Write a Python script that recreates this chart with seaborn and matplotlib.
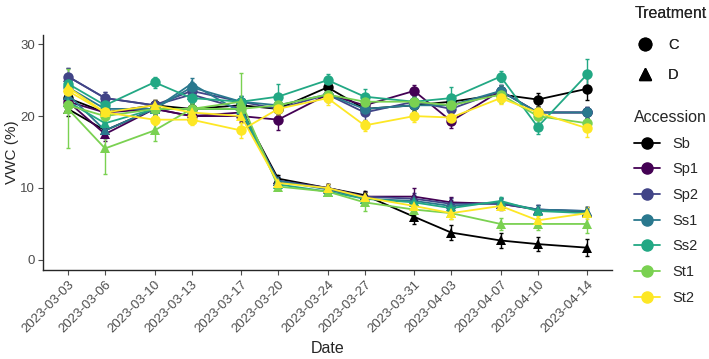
import pandas as pd
import seaborn as sns
import matplotlib.pyplot as plt
import matplotlib.dates as mdates
from matplotlib.lines import Line2D

dates = ["2023-03-03", "2023-03-06", "2023-03-10", "2023-03-13", "2023-03-17",
         "2023-03-20", "2023-03-24", "2023-03-27", "2023-03-31", "2023-04-03",
         "2023-04-07", "2023-04-10", "2023-04-14"]
accessions = ["Sb", "Sp1", "Sp2", "Ss1", "Ss2", "St1", "St2"]
colors = ["#000000", "#440154", "#414487", "#2A788E", "#22A884", "#7AD151", "#FDE725"]

# mean VWC, control (C)
c_sb  = [22.5, 20.5, 21.5, 21.0, 21.5, 21.0, 24.0, 21.0, 21.5, 22.0, 23.0, 22.3, 23.8]
c_sp1 = [22.0, 20.5, 21.0, 20.0, 20.0, 19.5, 23.0, 21.5, 23.5, 19.3, 23.5, 20.5, 20.5]
c_sp2 = [25.5, 22.5, 21.5, 23.5, 22.0, 21.0, 23.0, 20.5, 22.0, 21.0, 23.5, 20.5, 20.5]
c_ss1 = [24.0, 21.0, 21.0, 24.0, 22.0, 21.5, 23.0, 21.0, 21.5, 21.5, 23.5, 20.5, 20.5]
c_ss2 = [24.5, 21.5, 24.7, 22.5, 22.0, 22.7, 25.0, 22.7, 22.0, 22.5, 25.5, 18.5, 25.8]
c_st1 = [21.5, 20.0, 21.0, 21.0, 21.0, 21.5, 23.0, 22.0, 22.0, 21.5, 23.0, 20.0, 19.0]
c_st2 = [23.5, 20.5, 19.5, 19.5, 18.0, 21.0, 22.5, 18.7, 20.0, 19.8, 22.5, 20.5, 18.3]

# mean VWC, drought (D)
d_sb  = [21.0, 18.0, 21.0, 21.0, 21.0, 11.3, 10.0, 9.0, 6.0, 3.8, 2.7, 2.2, 1.7]
d_sp1 = [22.0, 17.5, 21.0, 20.0, 20.5, 11.0, 10.0, 8.8, 8.8, 8.0, 7.8, 7.0, 6.7]
d_sp2 = [25.5, 22.5, 21.5, 23.0, 21.0, 11.0, 10.0, 8.8, 8.5, 7.8, 7.8, 7.0, 6.8]
d_ss1 = [23.0, 18.0, 21.0, 24.5, 20.5, 11.0, 9.8, 8.5, 8.2, 7.5, 8.0, 7.0, 6.8]
d_ss2 = [22.0, 19.0, 21.0, 21.0, 21.0, 10.5, 9.5, 8.5, 8.0, 7.2, 8.2, 6.8, 6.5]
d_st1 = [21.0, 15.5, 18.0, 21.0, 22.0, 10.2, 9.5, 8.0, 7.0, 6.5, 5.0, 5.0, 5.0]
d_st2 = [24.0, 20.5, 21.5, 20.5, 20.0, 10.7, 10.0, 8.7, 7.5, 6.5, 7.5, 5.5, 6.5]

# standard errors
c_err = {
    "Sb":  [1.0, 0.8, 0.8, 0.8, 0.8, 0.8, 1.0, 0.8, 0.8, 0.8, 1.0, 0.9, 1.5],
    "Sp1": [1.0, 0.8, 0.8, 1.0, 0.8, 1.5, 1.0, 1.0, 0.8, 1.0, 0.8, 0.8, 0.8],
    "Sp2": [1.2, 0.8, 0.8, 1.0, 0.8, 0.8, 0.8, 1.0, 0.8, 0.8, 0.8, 0.8, 0.8],
    "Ss1": [1.0, 0.8, 0.8, 0.8, 0.8, 0.8, 0.8, 0.8, 0.8, 0.8, 0.8, 0.8, 0.8],
    "Ss2": [1.0, 0.8, 0.8, 0.8, 0.8, 1.8, 0.8, 1.0, 0.8, 1.5, 0.8, 1.0, 2.2],
    "St1": [1.0, 0.8, 0.8, 0.8, 0.8, 0.8, 1.0, 1.0, 1.0, 1.0, 1.2, 1.0, 1.0],
    "St2": [1.0, 0.8, 0.8, 0.8, 1.0, 0.8, 1.0, 0.8, 0.8, 0.8, 0.8, 0.8, 1.2],
}
d_err = {
    "Sb":  [1.0, 1.0, 0.8, 0.8, 0.8, 0.5, 0.5, 0.6, 1.0, 1.0, 1.0, 1.0, 1.2],
    "Sp1": [1.0, 1.0, 0.8, 1.0, 0.8, 0.5, 0.5, 0.6, 1.2, 0.8, 0.8, 0.6, 0.6],
    "Sp2": [1.2, 0.8, 0.8, 1.0, 0.8, 0.5, 0.5, 0.6, 0.8, 0.8, 0.6, 0.6, 0.6],
    "Ss1": [1.0, 1.0, 0.8, 0.8, 0.8, 0.5, 0.5, 0.6, 0.8, 0.8, 0.6, 0.6, 0.6],
    "Ss2": [1.0, 1.0, 0.8, 0.8, 0.8, 0.5, 0.5, 0.6, 0.8, 0.8, 0.6, 0.6, 0.6],
    "St1": [5.5, 3.5, 1.5, 1.0, 4.0, 0.5, 0.5, 1.2, 0.8, 0.8, 0.8, 0.8, 1.2],
    "St2": [1.0, 0.8, 0.8, 0.8, 1.0, 0.5, 0.5, 0.6, 0.8, 0.8, 0.6, 0.6, 0.8],
}

c_means = [c_sb, c_sp1, c_sp2, c_ss1, c_ss2, c_st1, c_st2]
d_means = [d_sb, d_sp1, d_sp2, d_ss1, d_ss2, d_st1, d_st2]

rows = []
for acc, cm, dm in zip(accessions, c_means, d_means):
    for i, d in enumerate(dates):
        rows.append({"Date": pd.Timestamp(d), "Accession": acc, "Treatment": "C",
                     "VWC": cm[i], "se": c_err[acc][i]})
        rows.append({"Date": pd.Timestamp(d), "Accession": acc, "Treatment": "D",
                     "VWC": dm[i], "se": d_err[acc][i]})
df = pd.DataFrame(rows)

sns.set_style("ticks")
plt.rcParams['font.family'] = ['Liberation Sans', 'DejaVu Sans']

pal = dict(zip(accessions, colors))
fig = plt.figure(figsize=(7.09, 3.59), dpi=100)
ax = fig.add_axes([0.061, 0.248, 0.802, 0.655])

# error bars
for (acc, trt), g in df.groupby(["Accession", "Treatment"]):
    ax.errorbar(g["Date"], g["VWC"], yerr=g["se"], fmt='none', ecolor=pal[acc],
                elinewidth=1.0, capsize=1.5, capthick=1.0, zorder=2)

sns.lineplot(data=df, x="Date", y="VWC", hue="Accession", style="Treatment",
             hue_order=accessions, palette=pal, markers={"C": "o", "D": "^"},
             dashes=False, markersize=7.5, markeredgewidth=0, linewidth=1.3,
             legend=False, ax=ax, zorder=3)

ax.set_xlim(pd.Timestamp("2023-03-01"), pd.Timestamp("2023-04-16"))
ax.set_ylim(-1.4, 31.3)
ax.set_yticks([0, 10, 20, 30])
ax.set_xticks([pd.Timestamp(d) for d in dates])
ax.xaxis.set_major_formatter(mdates.DateFormatter("%Y-%m-%d"))
plt.setp(ax.get_xticklabels(), rotation=45, ha='right', rotation_mode='anchor')
ax.tick_params(labelsize=9.5, colors='#4d4d4d', length=3.5, pad=2.5)
ax.tick_params(labelcolor='#4d4d4d')
ax.set_xlabel("Date", fontsize=11.5)
ax.set_ylabel("VWC (%)", fontsize=11, labelpad=1)
for s in ["top", "right"]:
    ax.spines[s].set_visible(False)
for s in ["left", "bottom"]:
    ax.spines[s].set_linewidth(1.0)

# legends
trt_handles = [Line2D([], [], color='black', marker=m, linestyle='none', markersize=9)
               for m in ["o", "^"]]
leg1 = fig.legend(trt_handles, ["C", "D"], title="Treatment", loc='upper left',
                  bbox_to_anchor=(0.876, 1.02), frameon=False, fontsize=10.5,
                  title_fontsize=11.5, alignment='left', handlelength=1.5,
                  labelspacing=1.15)
acc_handles = [Line2D([], [], color=c, marker='o', markersize=8, linewidth=1.3)
               for c in colors]
fig.legend(acc_handles, accessions, title="Accession", loc='upper left',
           bbox_to_anchor=(0.876, 0.73), frameon=False, fontsize=10.5,
           title_fontsize=11.5, alignment='left', handlelength=1.8,
           labelspacing=0.8)
fig.add_artist(leg1)

fig.savefig("out.png", dpi=100)
